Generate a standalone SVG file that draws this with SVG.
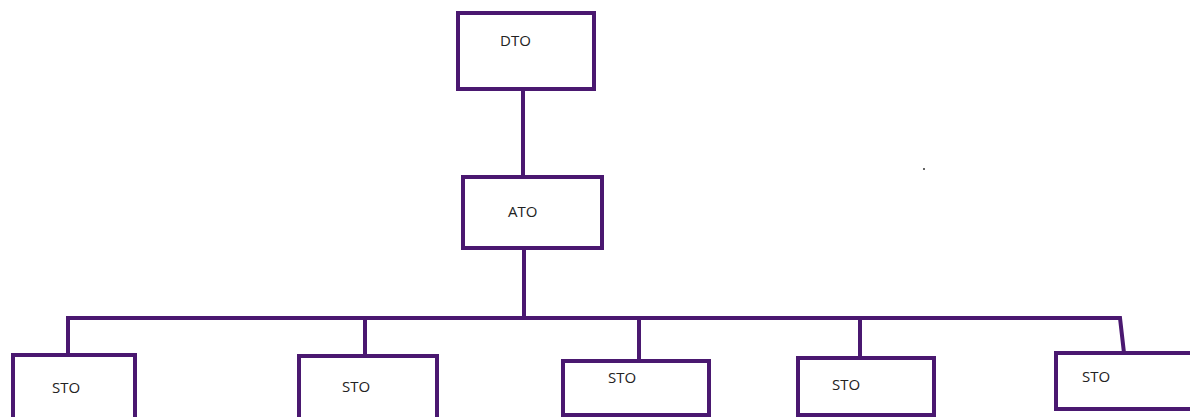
<svg xmlns="http://www.w3.org/2000/svg" width="1190" height="417" viewBox="0 0 1190 417">
<style>
.box{fill:#fff;stroke:#4a1870;stroke-width:4}
.ln{fill:none;stroke:#4a1870;stroke-width:4}
.t{font-family:"Open Sans","Liberation Sans",sans-serif;font-size:15px;fill:#222}
</style>
<rect width="1190" height="417" fill="#fff"/>
<g id="connectors">
<line class="ln" x1="523" y1="89" x2="523" y2="177"/>
<line class="ln" x1="524" y1="248" x2="524" y2="318"/>
<polyline class="ln" points="68,355 68,318 1120,318 1124,353"/>
<line class="ln" x1="365" y1="318" x2="365" y2="356"/>
<line class="ln" x1="639" y1="318" x2="639" y2="361"/>
<line class="ln" x1="860" y1="316" x2="860" y2="364"/>
</g>
<g id="dto"><rect class="box" x="458" y="13" width="136" height="76"/><text class="t" x="500" y="46">DTO</text></g>
<g id="ato"><rect class="box" x="463" y="177" width="139" height="71"/><text class="t" x="508" y="217">ATO</text></g>
<g id="sto1"><rect class="box" x="13" y="355" width="122" height="70"/><text class="t" x="52" y="393">STO</text></g>
<g id="sto2"><rect class="box" x="299" y="356" width="138" height="70"/><text class="t" x="342" y="392">STO</text></g>
<g id="sto3"><rect class="box" x="563" y="361" width="146" height="54"/><text class="t" x="608" y="383">STO</text></g>
<g id="sto4"><rect class="box" x="798" y="358" width="136" height="57"/><text class="t" x="832" y="390">STO</text></g>
<g id="sto5"><rect class="box" x="1056" y="353" width="140" height="56"/><text class="t" x="1082" y="382">STO</text></g>
<circle cx="924" cy="169" r="1" fill="#333"/>
</svg>
